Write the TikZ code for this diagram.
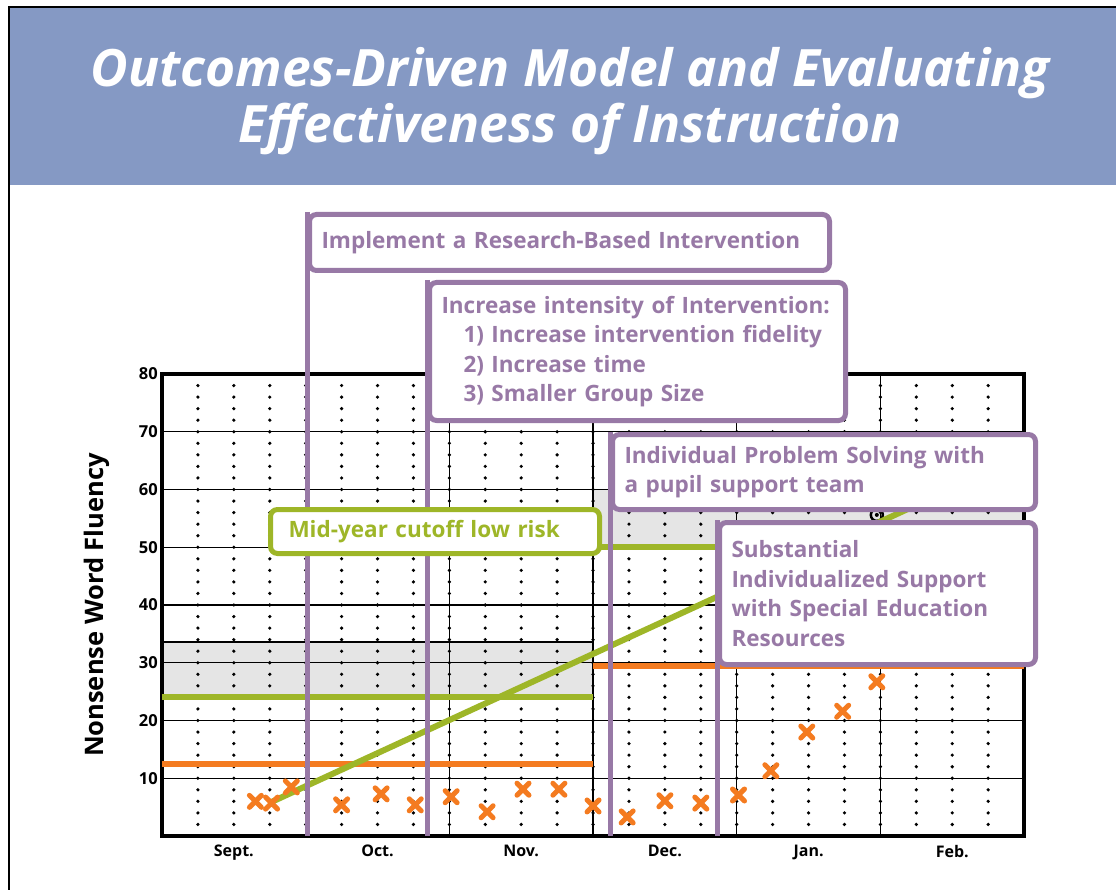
\documentclass[tikz,border=0pt]{standalone}
\usepackage{fontspec}
\setmainfont{Open Sans}
\definecolor{titleblue}{RGB}{133,153,196}
\definecolor{purp}{RGB}{152,121,166}
\definecolor{cutgreen}{RGB}{158,182,40}
\definecolor{cutorange}{RGB}{244,123,32}
\definecolor{bandgray}{RGB}{229,229,229}
\tikzset{
  titletext/.style={text=white, align=center, font=\fontsize{51.5}{56}\selectfont\bfseries\itshape},
  axislab/.style={font=\fontsize{25.5}{30}\selectfont\bfseries},
  ticklab/.style={anchor=east, inner sep=0pt, xshift=-4pt, font=\fontsize{16.5}{19}\selectfont\bfseries},
  monthlab/.style={anchor=north, inner sep=0pt, yshift=-9pt, font=\fontsize{16}{19}\selectfont\bfseries},
  gridline/.style={line width=1.2pt},
  cutline/.style={line width=6pt},
  aimline/.style={cutgreen, line width=6pt},
  datamark/.style={cutorange, line width=5pt, line cap=round},
  phaseline/.style={purp, line width=5pt},
  actbox/.style={draw=purp, line width=5pt, rounded corners=7pt, fill=white, text=purp,
    anchor=north west, align=left, inner xsep=12pt, inner ysep=0pt,
    font=\fontsize{22.5}{29.5}\selectfont\bfseries},
  cutbox/.style={actbox, draw=cutgreen, text=cutgreen, inner xsep=18pt}
}
\newcommand{\nwfmark}[2]{%
  \draw[datamark] (#1,#2) ++(-6pt,-6pt) -- ++(12pt,12pt) ++(-12pt,0pt) -- ++(12pt,-12pt);%
}

\begin{document}
\begin{tikzpicture}[x=1pt,y=-1pt]
  \useasboundingbox (0,0) rectangle (1116,890);
  % title band
  \fill[titleblue] (9,7) rectangle (1116,185);
  \draw[line width=1.5pt] (9,890) -- (9,7) -- (1116,7);
  \node[titletext] (title) at (570,101) {Outcomes-Driven Model and Evaluating\\Effectiveness of Instruction};
  \node[axislab, rotate=90] (ylab) at (97,605) {Nonsense Word Fluency};

  % chart: weeks across, NWF up
  \begin{scope}[xshift=162pt, yshift=-836pt, x=35.92pt, y=5.775pt]
    \coordinate (origin) at (0,0);
    \fill[bandgray] (0,24) rectangle (12,33.6);
    \fill[bandgray] (12,50) rectangle (24,60);
    \foreach \v in {10,20,...,70} \draw[gridline] (0,\v) -- (24,\v);
    \draw[gridline] (0,33.6) -- (12,33.6);
    \foreach \m in {4,8,...,20} \draw[gridline] (\m,0) -- (\m,80);
    \foreach \w in {1,...,23}
      \foreach \v in {2,4,...,78}
        \fill (\w,\v) circle (1.8pt);
    \draw[line width=4pt] (0,0) rectangle (24,80);
    \foreach \v in {10,20,...,80} \node[ticklab] (tick\v) at (0,\v) {\v};
    \foreach \n [count=\i] in {Sept.,Oct.,Nov.,Dec.,Jan.,Feb.}
      \node[monthlab] (month\i) at ({4*\i-2},0) {\n};
    %
    \draw[cutline, cutgreen] (0,24) -- (12,24);
    \draw[cutline, cutorange] (0,12.5) -- (12,12.5);
    \draw[cutline, cutgreen] (12,50) -- (24,50);
    \draw[cutline, cutorange] (12,29.5) -- (24,29.5);
    \draw[line width=2.5pt] (19.9,55.6) circle (6pt);
    \fill (19.9,55.6) circle (2pt);
    \draw[aimline] (3.05,5.9) -- (21,57.3);
    \nwfmark{2.6}{6}      % baseline
    \nwfmark{3.05}{5.7}
    \nwfmark{3.6}{8.5}
    \nwfmark{5}{5.4}      % first intervention
    \nwfmark{6.1}{7.3}
    \nwfmark{7.05}{5.4}
    \nwfmark{8.05}{6.8}   % more intensity
    \nwfmark{9.05}{4.2}
    \nwfmark{10.05}{8.1}
    \nwfmark{11.05}{8.1}
    \nwfmark{12}{5.2}
    \nwfmark{12.95}{3.3}  % problem solving
    \nwfmark{14}{6.1}
    \nwfmark{15}{5.7}
    \nwfmark{16.05}{7.1}  % special education
    \nwfmark{16.95}{11.3}
    \nwfmark{17.95}{18}
    \nwfmark{18.95}{21.6}
    \nwfmark{19.9}{26.7}
  \end{scope}

  % phase changes
  \coordinate (p1) at (307,212);
  \coordinate (p2) at (427,280);
  \coordinate (p3) at (610,432);
  \coordinate (p4) at (717,520);
  \foreach \p in {p1,p2,p3,p4} \draw[phaseline] (\p) -- (\p |- origin);
  \node[actbox, text width=496pt, minimum height=56pt] (b1) at (p1) {Implement a Research-Based Intervention};
  \node[actbox, text width=392pt, minimum height=138pt] (b2) at (p2)
    {Increase intensity of Intervention:\\
     \hspace*{22pt}1) Increase intervention fidelity\\
     \hspace*{22pt}2) Increase time\\
     \hspace*{22pt}3) Smaller Group Size};
  \node[actbox, text width=399pt, minimum height=75pt] (b3) at (p3) {Individual Problem Solving with\\a pupil support team};
  \node[actbox, text width=292pt, minimum height=142pt] (b4) at (p4) {Substantial\\Individualized Support\\with Special Education\\Resources};
  \node[cutbox, text width=293pt, minimum height=44pt] (lowrisk) at (268,507) {Mid-year cutoff low risk};
\end{tikzpicture}
\end{document}
